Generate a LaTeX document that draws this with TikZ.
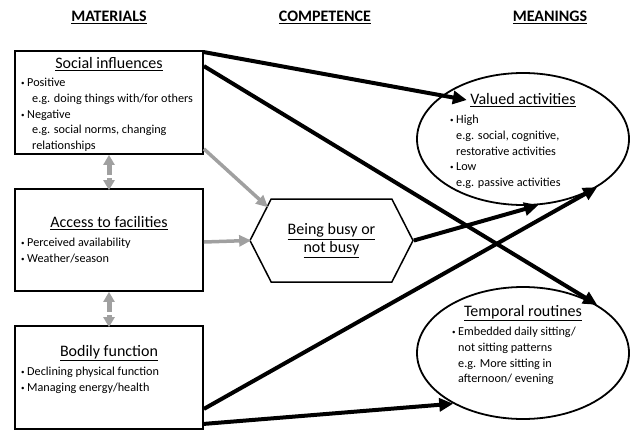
\documentclass[tikz,border=0pt]{standalone}
\usepackage{fontspec}
\setmainfont{Carlito}
\usetikzlibrary{arrows.meta,shapes.geometric,shapes.symbols,positioning}
\definecolor{arrgray}{RGB}{160,160,160}
\newcommand{\bul}[1]{\makebox[6pt][l]{\raisebox{1pt}{\scriptsize\textbullet}}#1}
\newcommand{\eg}{\hspace*{11pt}}
\newcommand{\ind}{\hspace*{6pt}}

\begin{document}
\begin{tikzpicture}[x=1pt,y=-1pt,
                box/.style={draw,line width=1.8pt,minimum width=188pt,inner sep=0pt},
                oval/.style={draw,line width=1.8pt,ellipse,minimum width=212pt,minimum height=132pt,inner sep=0pt},
                head/.style={font=\fontsize{16}{18}\selectfont\bfseries},
                ttl/.style={font=\fontsize{16}{18}\selectfont},
                txt/.style={font=\fontsize{12.2}{15.7}\selectfont,align=left,inner sep=0pt,anchor=north west},
                blk/.style={line width=4pt,-{Triangle[length=14pt,width=13pt]}},
                gry/.style={line width=3.5pt,arrgray,-{Triangle[length=12pt,width=11pt]}},
                both/.style={line width=5pt,arrgray,dash pattern=on 11pt off 3pt,{Triangle[length=10pt,width=11pt]}-{Triangle[length=10pt,width=11pt]}}
            ]
                \useasboundingbox (0,0) rectangle (631,431);

                % column headings
                \node[head] (mat) at (109,17) {\underline{MATERIALS}};
                \node[head] (com) at (325,17) {\underline{COMPETENCE}};
                \node[head] (mea) at (550,17) {\underline{MEANINGS}};

                % materials
                \node[box,minimum height=103pt] (soc) at (109,102.5) {};
                \node[box,minimum height=102pt] (acc) at (109,240) {};
                \node[box,minimum height=103pt] (bod) at (109,377.5) {};

                \node[ttl] (socT) at (109,64) {\underline{Social influences}};
                \node[txt] (socB) at (21,78) {\bul{Positive}\\\eg e.g. doing things with/for others\\\bul{Negative}\\\eg e.g. social norms, changing\\\eg relationships};
                \node[ttl] (accT) at (109,223) {\underline{Access to facilities}};
                \node[txt] (accB) at (21,238) {\bul{Perceived availability}\\\bul{Weather/season}};
                \node[ttl] (bodT) at (109,353) {\underline{Bodily function}};
                \node[txt] (bodB) at (21,367) {\bul{Declining physical function}\\\bul{Managing energy/health}};

                % competence
                \node[draw,line width=1.5pt,signal,signal to=east and west,signal pointer angle=126,
                      minimum width=163pt,minimum height=83pt,inner sep=0pt,
                      font=\fontsize{16}{18}\selectfont,align=center] (busy) at (331.5,240.5)
                      {\underline{Being busy or}\\\underline{not busy}};

                % meanings
                \node[oval] (val) at (523,139) {};
                \node[oval] (tem) at (523,353) {};

                \node[ttl] (valT) at (523,100) {\underline{Valued activities}};
                \node[txt] (valB) at (450,115) {\bul{High}\\\ind e.g. social, cognitive,\\\ind restorative activities\\\bul{Low}\\\ind e.g. passive activities};
                \node[ttl] (temT) at (523,313) {\underline{Temporal routines}};
                \node[txt] (temB) at (452,327) {\bul{Embedded daily sitting/}\\\ind not sitting patterns\\\ind e.g. More sitting in\\\ind afternoon/ evening};

                \begin{scope}[shorten >=-2pt]
                    \draw[both] (soc.south) -- (acc.north);
                    \draw[both] (acc.south) -- (bod.north);
                    \draw[gry] ([yshift=6pt]soc.south east) -- (busy.152);
                    \draw[gry] ([yshift=-2pt]acc.east) -- (busy.west);
                \end{scope}

                \begin{scope}
                    \draw[blk] ([yshift=-2pt]soc.north east)  -- (valT.west);
                    \draw[blk] ([yshift=-16pt]soc.north east) -- (tem.33);
                    \draw[blk] (busy.east) -- (val.-77);
                    \draw[blk] ([yshift=21pt]bod.south east)  -- (val.-33);
                    \draw[blk] ([yshift=6pt]bod.south east)   -- (tem.216);
                \end{scope}
            \end{tikzpicture}
\end{document}
